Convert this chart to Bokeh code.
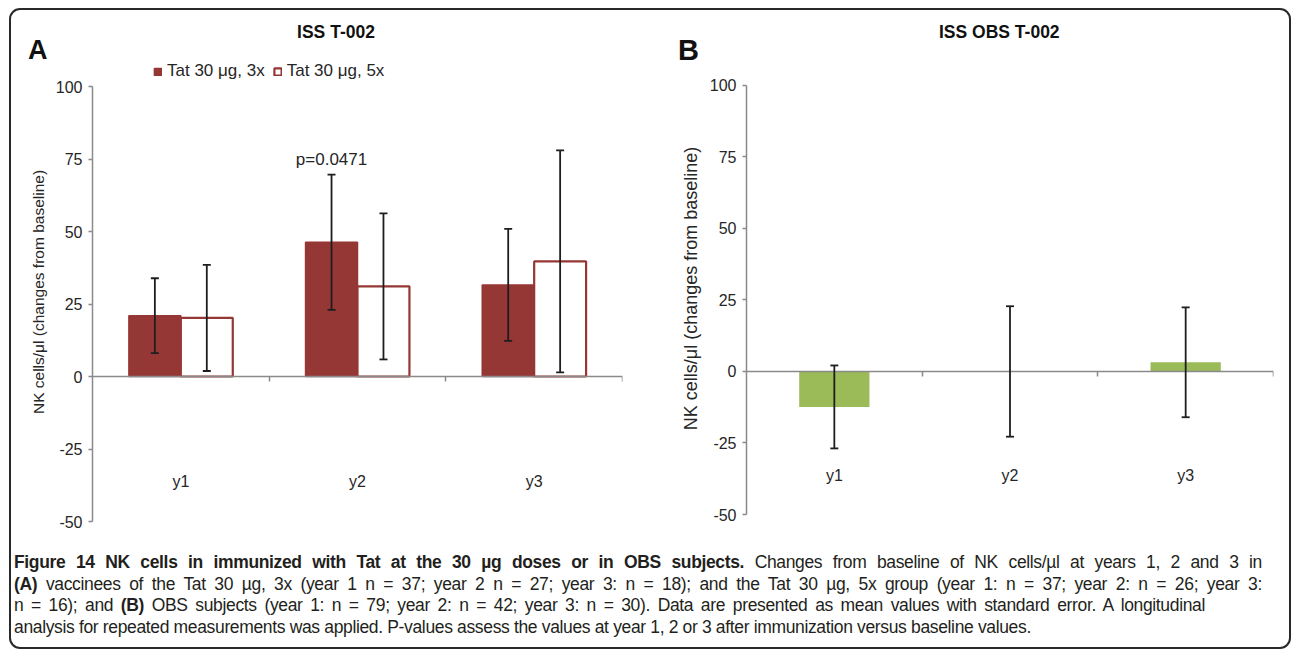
from bokeh.plotting import figure
from bokeh.models import (ColumnDataSource, Whisker, TeeHead, Legend, LegendItem, Label,
                          FixedTicker, Range1d, Div)
from bokeh.layouts import row, column
from bokeh.embed import file_html
from bokeh.resources import INLINE

# ---------------- data ----------------
categories = ["y1", "y2", "y3"]
series_labels = ["Tat 30 μg, 3x", "Tat 30 μg, 5x"]
a_3x_mean = [21.0, 46.3, 31.6]
a_3x_se = [12.9, 23.3, 19.3]
a_5x_mean = [20.2, 31.1, 39.7]
a_5x_se = [18.3, 25.2, 38.3]
b_mean = [-12.4, 0.0, 3.2]
b_se = [14.5, 22.8, 19.2]
p_value_text = "p=0.0471"
panel_letters = ["A", "B"]
title_a = "ISS T-002"
title_b = "ISS OBS T-002"
y_label = "NK cells/μl (changes from baseline)"
y_ticks = [-50, -25, 0, 25, 50, 75, 100]

RED = "#953735"
GREEN = "#9bbb59"
AXIS = "#8a8a8a"
TXT = "#262626"
ERR = "#1e1e1e"
FONT = "Liberation Sans"

xs = [i + 1 for i in range(len(categories))]
off = 0.147
srcA = ColumnDataSource(dict(
    x3=[x - off for x in xs], m3=a_3x_mean,
    u3=[m + s for m, s in zip(a_3x_mean, a_3x_se)], l3=[m - s for m, s in zip(a_3x_mean, a_3x_se)],
    x5=[x + off for x in xs], m5=a_5x_mean,
    u5=[m + s for m, s in zip(a_5x_mean, a_5x_se)], l5=[m - s for m, s in zip(a_5x_mean, a_5x_se)],
))
srcB = ColumnDataSource(dict(
    x=xs, m=b_mean,
    u=[m + s for m, s in zip(b_mean, b_se)], l=[m - s for m, s in zip(b_mean, b_se)],
))


def make_fig(width, height, y_top, mbl, mbr, label_size):
    p = figure(width=width, height=height, x_range=Range1d(0.5, 3.5), y_range=Range1d(-50, y_top),
               output_backend="svg", toolbar_location=None,
               min_border_left=mbl, min_border_right=mbr, min_border_top=0, min_border_bottom=21)
    p.outline_line_color = None
    p.xgrid.visible = False
    p.ygrid.visible = False
    p.background_fill_color = "white"
    p.border_fill_color = "white"
    ya = p.yaxis[0]
    ya.ticker = FixedTicker(ticks=y_ticks)
    ya.bounds = (y_ticks[0], y_ticks[-1])
    ya.major_label_overrides = {t: str(t) for t in y_ticks}
    ya.axis_line_color = AXIS
    ya.axis_line_width = 1.5
    ya.major_tick_line_color = AXIS
    ya.major_tick_line_width = 1.5
    ya.major_tick_in = 0
    ya.major_tick_out = 4
    ya.minor_tick_line_color = None
    ya.major_label_text_font = FONT
    ya.major_label_text_font_size = "16px"
    ya.major_label_text_color = TXT
    ya.major_label_standoff = 6
    ya.axis_label = y_label
    ya.axis_label_text_font = FONT
    ya.axis_label_text_font_style = "normal"
    ya.axis_label_text_font_size = label_size
    ya.axis_label_text_color = TXT
    ya.axis_label_standoff = 6

    xa = p.xaxis[0]
    xa.ticker = FixedTicker(ticks=xs, minor_ticks=[x + 0.5 for x in xs])
    xa.major_label_overrides = {x: c for x, c in zip(xs, categories)}
    xa.fixed_location = 0
    xa.axis_line_color = AXIS
    xa.axis_line_width = 1.5
    xa.major_tick_line_color = None
    xa.minor_tick_line_color = AXIS
    xa.minor_tick_line_width = 1.5
    xa.minor_tick_in = 0
    xa.minor_tick_out = 5
    xa.major_tick_out = 0
    xa.major_tick_in = 0
    xa.major_label_standoff = 91
    xa.major_label_text_font = FONT
    xa.major_label_text_font_size = "16px"
    xa.major_label_text_color = TXT
    return p


def add_whisker(p, src, base, upper, lower):
    w = Whisker(source=src, base=base, upper=upper, lower=lower, line_color=ERR, line_width=1.8,
                upper_head=TeeHead(size=8, line_color=ERR, line_width=1.8),
                lower_head=TeeHead(size=8, line_color=ERR, line_width=1.8), level="annotation")
    p.add_layout(w)


# ---------------- panel A ----------------
pA = make_fig(636, 480, 108.3, 81, 25, "15.5px")
r3 = pA.vbar(x="x3", top="m3", bottom=0, width=0.294, source=srcA,
             fill_color=RED, line_color=RED, line_width=1.5)
r5 = pA.vbar(x="x5", top="m5", bottom=0, width=0.294, source=srcA,
             fill_color="white", line_color=RED, line_width=2.2)
add_whisker(pA, srcA, "x3", "u3", "l3")
add_whisker(pA, srcA, "x5", "u5", "l5")

legend = Legend(items=[LegendItem(label=series_labels[0], renderers=[r3]),
                       LegendItem(label=series_labels[1], renderers=[r5])],
                orientation="horizontal", location=(61, 440), padding=0, margin=0,
                spacing=8, label_standoff=5, glyph_width=9, glyph_height=9,
                label_height=18, label_text_font=FONT, label_text_font_size="17px",
                label_text_color=TXT, background_fill_alpha=0, border_line_color=None)
pA.add_layout(legend)

pA.add_layout(Label(x=xs[1] - off, y=75, text=p_value_text, text_align="center",
                    text_baseline="middle", text_font=FONT, text_font_size="17px",
                    text_color=TXT))

# ---------------- panel B ----------------
pB = make_fig(642, 473, 108.0, 99, 16, "18px")
pB.vbar(x="x", top="m", bottom=0, width=0.4, source=srcB,
        fill_color=GREEN, line_color=None)
add_whisker(pB, srcB, "x", "u", "l")

# ---------------- header (panel letters and titles) ----------------
def span(text, left, top, size, center=False):
    tr = "transform:translateX(-50%);" if center else ""
    return (f"<span style=\"position:absolute;left:{left}px;top:{top}px;font-size:{size}px;"
            f"font-weight:bold;line-height:1;white-space:nowrap;{tr}\">{text}</span>")

header_html = ("<div style=\"position:relative;width:1278px;height:52px;"
               "font-family:'Liberation Sans';color:#111111;\">"
               + span(panel_letters[0], 17, 27, 27)
               + span(title_a, 325, 14, 17.5, center=True)
               + span(panel_letters[1], 667, 25.5, 29)
               + span(title_b, 928, 14, 17.5)
               + "</div>")
header = Div(text=header_html, width=1278, height=52, margin=0)

# ---------------- caption ----------------
caption_lines = [
    "<b>Figure 14 NK cells in immunized with Tat at the 30 µg doses or in OBS subjects.</b> "
    "Changes from baseline of NK cells/µl at years 1, 2 and 3 in",
    "<b>(A)</b> vaccinees of the Tat 30 µg, 3x (year 1 n = 37; year 2 n = 27; year 3: n = 18); "
    "and the Tat 30 µg, 5x group (year 1: n = 37; year 2: n = 26; year 3:",
    "n = 16); and <b>(B)</b> OBS subjects (year 1: n = 79; year 2: n = 42; year 3: n = 30). "
    "Data are presented as mean values with standard error. A longitudinal",
    "analysis for repeated measurements was applied. P-values assess the values at year 1, 2 or 3 "
    "after immunization versus baseline values.",
]
line_widths = [1248, 1248, 1191, None]   # layout: where each caption line ends
line_divs = []
for txt, w in zip(caption_lines, line_widths):
    if w is None:
        line_divs.append(f"<div style=\"white-space:nowrap;\">{txt}</div>")
    else:
        line_divs.append(f"<div style=\"width:{w}px;text-align:justify;text-align-last:justify;\">"
                         f"{txt}</div>")
cap_html = ("<div style=\"font-family:'Liberation Sans'; font-size:17.5px; letter-spacing:-0.35px; "
            "line-height:21.7px; color:#231f20; padding:10px 0 0 3px;\">"
            + "".join(line_divs) + "</div>")
cap = Div(text=cap_html, width=1278, height=105, margin=0)

layout = column(header, row(pA, pB), cap, margin=(8, 0, 0, 9),
                styles={"border": "2px solid #2a2a2a", "border-radius": "11px",
                        "background-color": "white"})

open("out.html", "w").write(file_html(layout, INLINE))
